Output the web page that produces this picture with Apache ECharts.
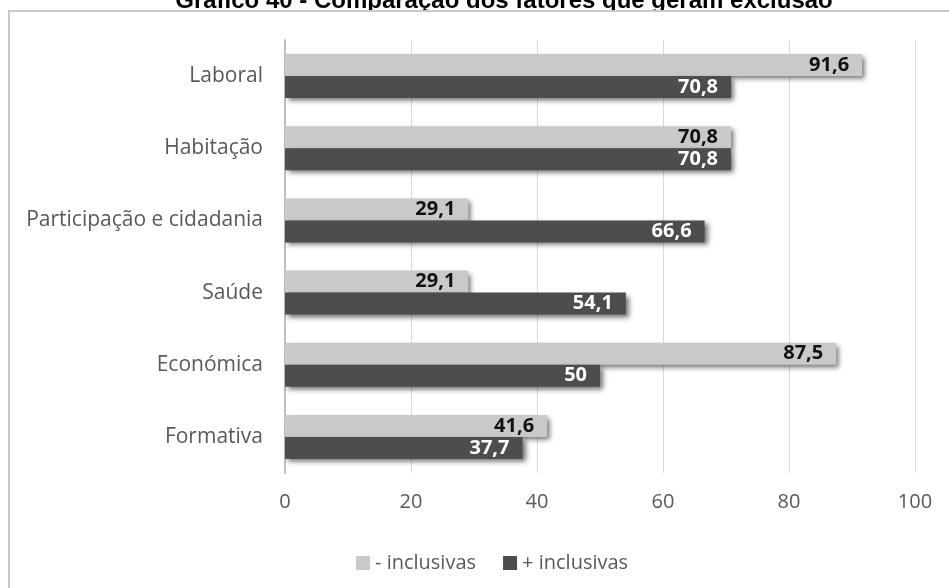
<!DOCTYPE html>
<html><head><meta charset="utf-8">
<script src="https://cdn.jsdelivr.net/npm/echarts@6/dist/echarts.min.js"></script>
<style>html,body{margin:0;padding:0;background:#fff}#c{width:949px;height:588px}</style>
</head><body><div id="c"></div>
<script>
const categories = ['Laboral','Habitação','Participação e cidadania','Saúde','Económica','Formativa'];
const seriesNames = ['- inclusivas','+ inclusivas'];
const menosInclusivas = [91.6, 70.8, 29.1, 29.1, 87.5, 41.6];
const maisInclusivas = [70.8, 70.8, 66.6, 54.1, 50, 37.7];
const xTicks = [0, 100, 20];
const titleText = 'Gráfico 40 - Comparação dos fatores que geram exclusão';

const chart = echarts.init(document.getElementById('c'), null, {renderer:'canvas'});
const FONT = '"Open Sans", sans-serif';
const fmt = p => String(p.value).replace('.', ',');
chart.setOption({
  animation:false,
  backgroundColor:'#fff',
  graphic:[
    {type:'text', z:-2, style:{text:titleText, x:504, y:1, textAlign:'center', textVerticalAlign:'middle', font:'bold 24px "Liberation Sans", Arial, sans-serif', fill:'#000'}},
    {type:'rect', z:-1, shape:{x:9, y:11, width:1000, height:1000}, style:{fill:'#fff', stroke:'#c9c9c9', lineWidth:2}}
  ],
  grid:{left:285, right:34, top:40, bottom:115},
  legend:{
    data:seriesNames, left:351, top:548, itemWidth:14, itemHeight:14, itemGap:27, icon:'rect',
    textStyle:{fontFamily:FONT, fontSize:20, color:'#595959'}
  },
  xAxis:{
    type:'value', min:xTicks[0], max:xTicks[1], interval:xTicks[2],
    axisLine:{show:false}, axisTick:{show:false},
    splitLine:{lineStyle:{color:'#d9d9d9', width:1}},
    axisLabel:{fontFamily:FONT, fontSize:20, color:'#595959', margin:19}
  },
  yAxis:{
    type:'category', data:categories, inverse:true,
    axisLine:{show:true, lineStyle:{color:'#bfbfbf', width:2}}, axisTick:{show:false},
    axisLabel:{fontFamily:FONT, fontSize:21, color:'#595959', margin:22}
  },
  series:[
    {name:seriesNames[0], type:'bar', data:menosInclusivas, barWidth:22, barGap:'0%',
     itemStyle:{color:'#c9c9c9', shadowColor:'rgba(0,0,0,0.55)', shadowBlur:5, shadowOffsetX:3, shadowOffsetY:3},
     label:{show:true, position:'insideRight', distance:13, formatter:fmt, fontFamily:FONT, fontWeight:'bold', fontSize:20, color:'#111'}},
    {name:seriesNames[1], type:'bar', data:maisInclusivas, barWidth:22, barGap:'0%',
     itemStyle:{color:'#4d4d4d', shadowColor:'rgba(0,0,0,0.55)', shadowBlur:5, shadowOffsetX:3, shadowOffsetY:3},
     label:{show:true, position:'insideRight', distance:13, formatter:fmt, fontFamily:FONT, fontWeight:'bold', fontSize:20, color:'#fff'}}
  ]
});
</script></body></html>
